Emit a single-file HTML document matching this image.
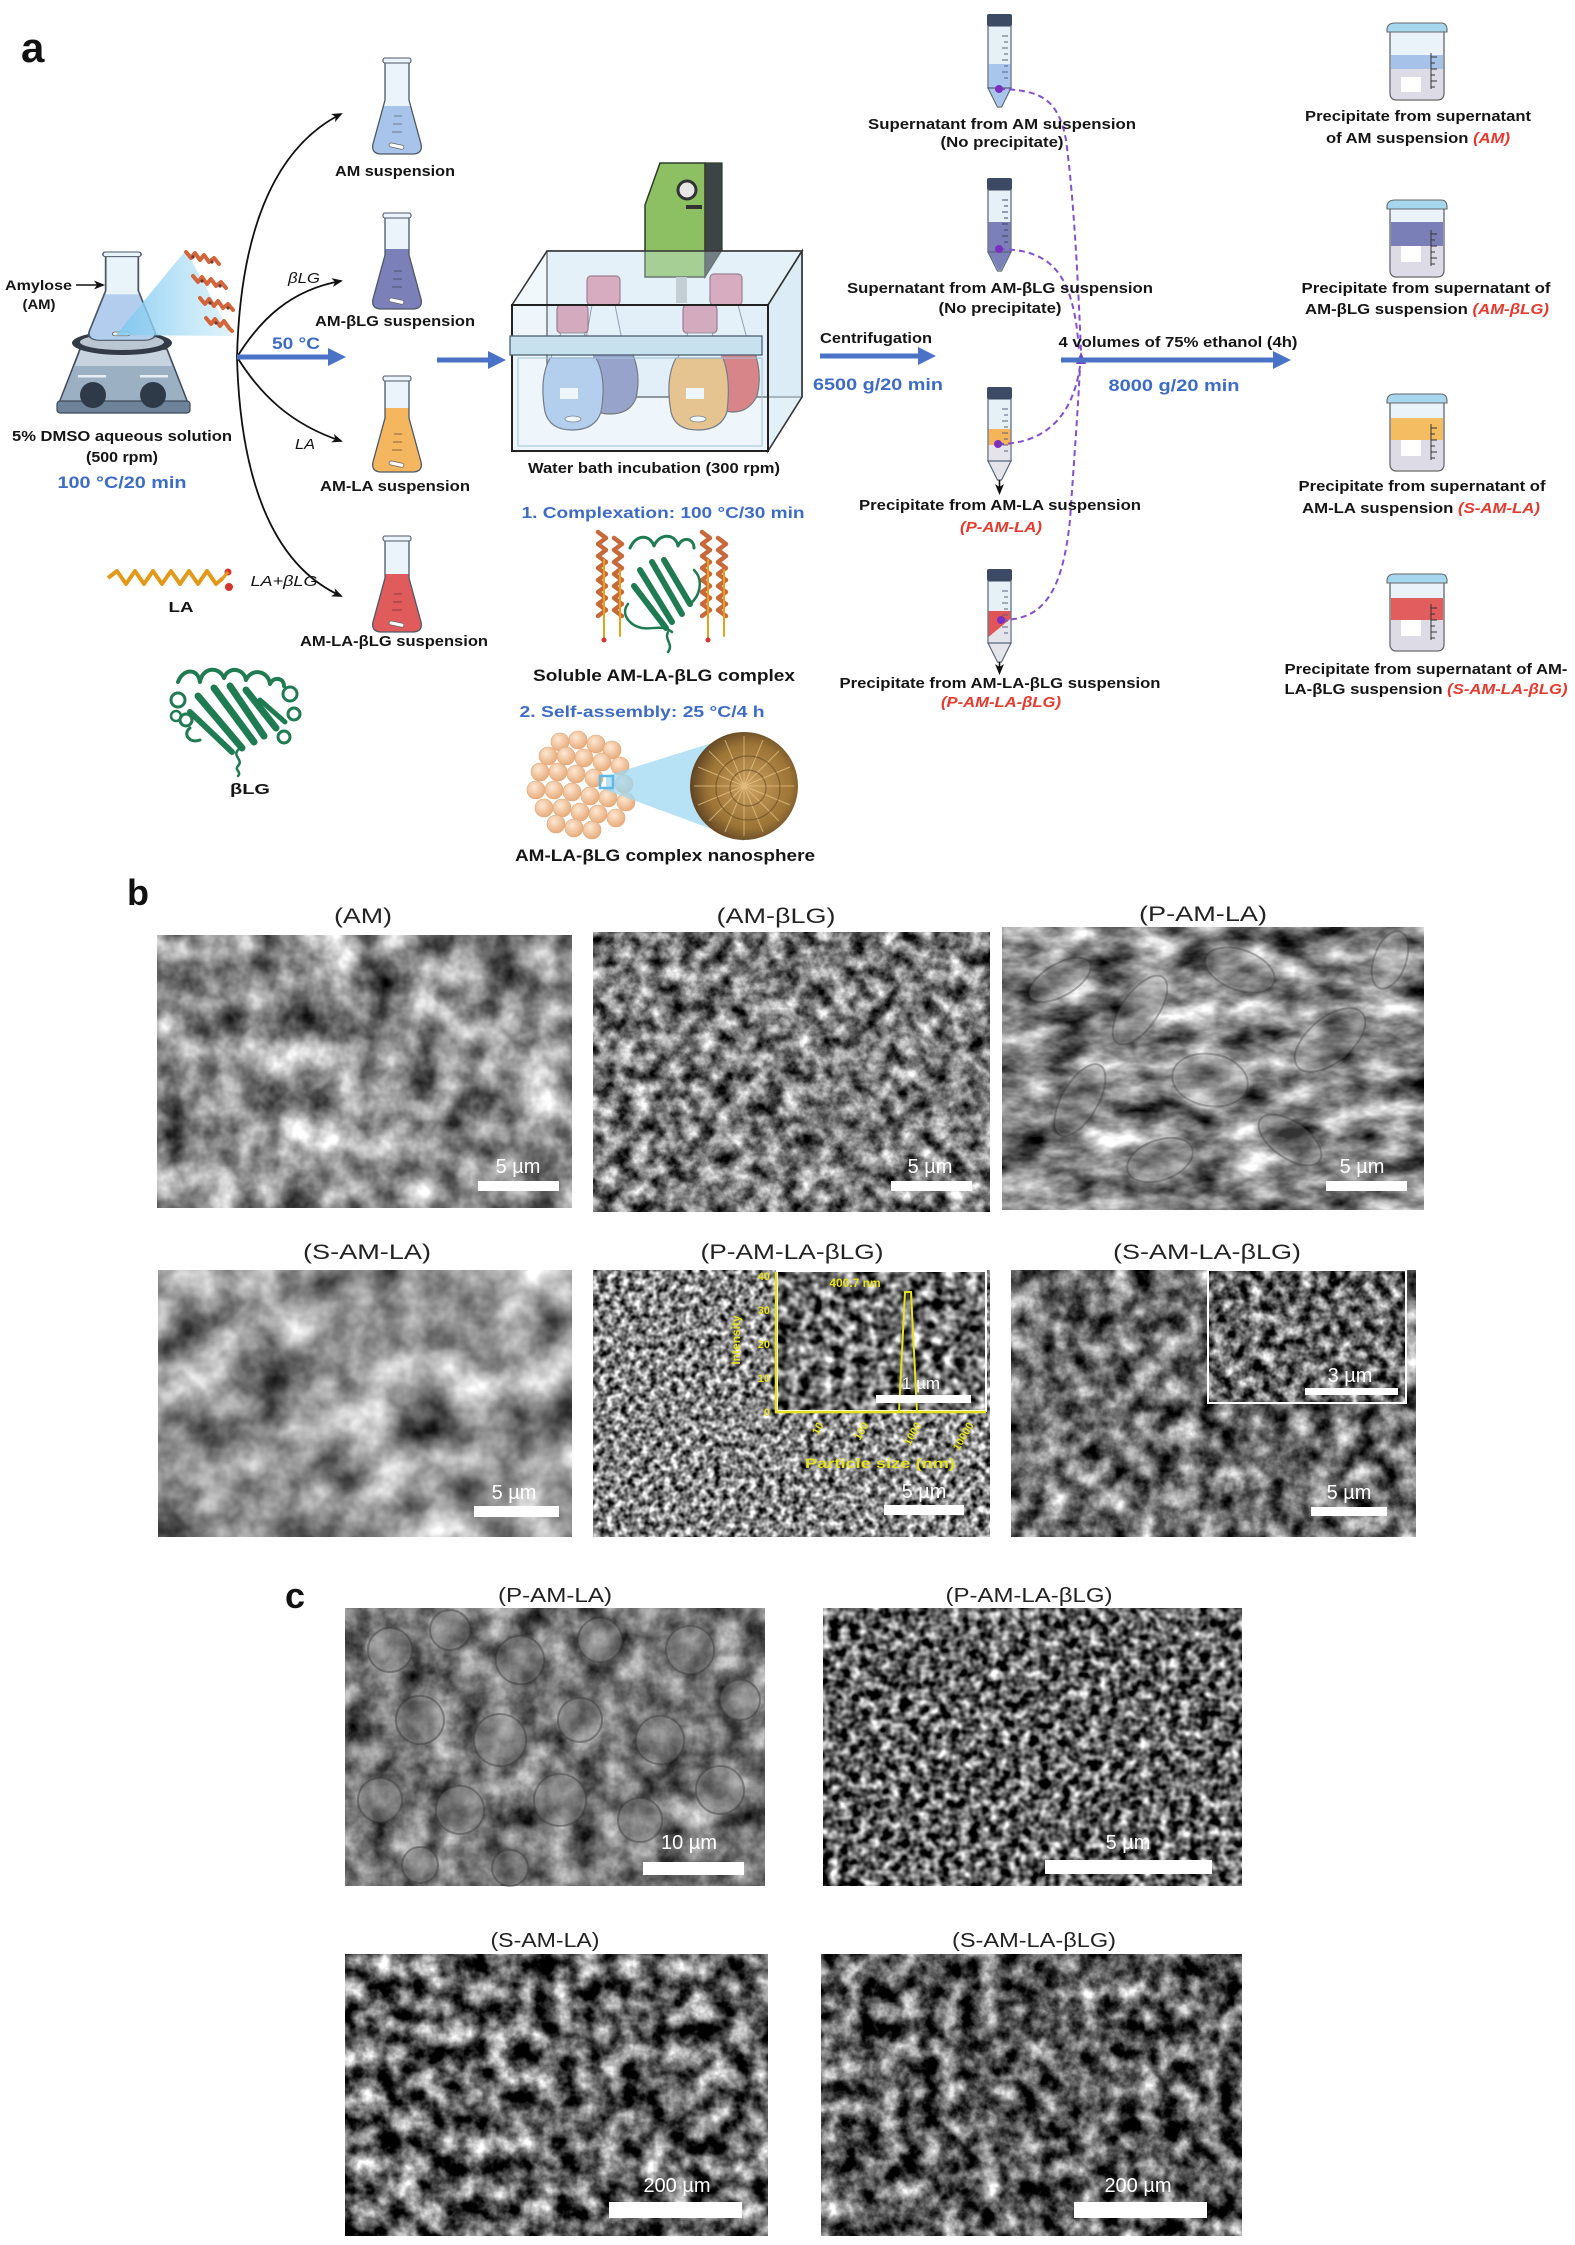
<!DOCTYPE html>
<html><head><meta charset="utf-8">
<style>
html,body{margin:0;padding:0;background:#fff;}
svg{display:block;}
text{font-family:"Liberation Sans",Arial,sans-serif;}
.t{font-size:14.5px;font-weight:bold;fill:#151515;}
.bl{font-size:17px;font-weight:bold;fill:#3d6cc6;}
.bk{font-size:17px;font-weight:bold;fill:#151515;}
.rd{fill:#e8392d;font-style:italic;}
.ti{font-size:21px;fill:#222;}
.sb{font-size:20px;font-weight:normal;fill:#fff;}
.yl{fill:#e6e21e;font-weight:bold;}
</style></head>
<body>
<svg width="1575" height="2245" viewBox="0 0 1575 2245" xmlns="http://www.w3.org/2000/svg">
<defs>
<marker id="ah" markerWidth="12" markerHeight="12" refX="9" refY="6" orient="auto" markerUnits="userSpaceOnUse"><path d="M0,1.5 L11,6 L0,10.5 L3,6 Z" fill="#111"/></marker>
<clipPath id="fc"><path d="M13,3 L37,3 L37,42 L49,86 Q51,95 42,96 L8,96 Q-1,95 1,86 L13,42 Z"/></clipPath>
<radialGradient id="bead" cx="40%" cy="35%" r="65%"><stop offset="0" stop-color="#fde8d2"/><stop offset="1" stop-color="#e8ac7c"/></radialGradient>
<radialGradient id="sph" cx="55%" cy="50%" r="55%"><stop offset="0" stop-color="#c9a060"/><stop offset="0.7" stop-color="#9c7436"/><stop offset="1" stop-color="#5e4424"/></radialGradient>
<linearGradient id="cone" x1="0" y1="0" x2="1" y2="0"><stop offset="0" stop-color="#7cc8ef" stop-opacity="0.9"/><stop offset="1" stop-color="#bfe6f8" stop-opacity="0.5"/></linearGradient>
<filter id="fb1" x="0" y="0" width="1" height="1" color-interpolation-filters="sRGB"><feTurbulence type="fractalNoise" baseFrequency="0.025" numOctaves="4" seed="3"/><feColorMatrix type="matrix" values="1.4 0 0 0 -0.15 1.4 0 0 0 -0.15 1.4 0 0 0 -0.15 0 0 0 0 1"/></filter>
<filter id="fb2" x="0" y="0" width="1" height="1" color-interpolation-filters="sRGB"><feTurbulence type="fractalNoise" baseFrequency="0.06" numOctaves="4" seed="7"/><feColorMatrix type="matrix" values="1.6 0 0 0 -0.32 1.6 0 0 0 -0.32 1.6 0 0 0 -0.32 0 0 0 0 1"/></filter>
<filter id="fb3" x="0" y="0" width="1" height="1" color-interpolation-filters="sRGB"><feTurbulence type="fractalNoise" baseFrequency="0.022 0.04" numOctaves="4" seed="11"/><feColorMatrix type="matrix" values="1.5 0 0 0 -0.23 1.5 0 0 0 -0.23 1.5 0 0 0 -0.23 0 0 0 0 1"/></filter>
<filter id="fb4" x="0" y="0" width="1" height="1" color-interpolation-filters="sRGB"><feTurbulence type="fractalNoise" baseFrequency="0.02" numOctaves="4" seed="5"/><feColorMatrix type="matrix" values="1.2 0 0 0 -0.02 1.2 0 0 0 -0.02 1.2 0 0 0 -0.02 0 0 0 0 1"/></filter>
<filter id="fb5" x="0" y="0" width="1" height="1" color-interpolation-filters="sRGB"><feTurbulence type="fractalNoise" baseFrequency="0.14" numOctaves="2" seed="9"/><feColorMatrix type="matrix" values="1.8 0 0 0 -0.38 1.8 0 0 0 -0.38 1.8 0 0 0 -0.38 0 0 0 0 1"/></filter>
<filter id="fb6" x="0" y="0" width="1" height="1" color-interpolation-filters="sRGB"><feTurbulence type="fractalNoise" baseFrequency="0.045" numOctaves="4" seed="13"/><feColorMatrix type="matrix" values="1.5 0 0 0 -0.32 1.5 0 0 0 -0.32 1.5 0 0 0 -0.32 0 0 0 0 1"/></filter>
<filter id="fb5i" x="0" y="0" width="1" height="1" color-interpolation-filters="sRGB"><feTurbulence type="fractalNoise" baseFrequency="0.09" numOctaves="2" seed="31"/><feColorMatrix type="matrix" values="2.0 0 0 0 -0.58 2.0 0 0 0 -0.58 2.0 0 0 0 -0.58 0 0 0 0 1"/></filter>
<filter id="fb6i" x="0" y="0" width="1" height="1" color-interpolation-filters="sRGB"><feTurbulence type="fractalNoise" baseFrequency="0.08" numOctaves="3" seed="37"/><feColorMatrix type="matrix" values="1.8 0 0 0 -0.5 1.8 0 0 0 -0.5 1.8 0 0 0 -0.5 0 0 0 0 1"/></filter>
<filter id="fc1" x="0" y="0" width="1" height="1" color-interpolation-filters="sRGB"><feTurbulence type="fractalNoise" baseFrequency="0.035" numOctaves="4" seed="17"/><feColorMatrix type="matrix" values="1.1 0 0 0 -0.1 1.1 0 0 0 -0.1 1.1 0 0 0 -0.1 0 0 0 0 1"/></filter>
<filter id="fc2" x="0" y="0" width="1" height="1" color-interpolation-filters="sRGB"><feTurbulence type="fractalNoise" baseFrequency="0.1" numOctaves="2" seed="19"/><feColorMatrix type="matrix" values="2.0 0 0 0 -0.62 2.0 0 0 0 -0.62 2.0 0 0 0 -0.62 0 0 0 0 1"/></filter>
<filter id="fc3" x="0" y="0" width="1" height="1" color-interpolation-filters="sRGB"><feTurbulence type="fractalNoise" baseFrequency="0.045" numOctaves="4" seed="23"/><feColorMatrix type="matrix" values="1.8 0 0 0 -0.52 1.8 0 0 0 -0.52 1.8 0 0 0 -0.52 0 0 0 0 1"/></filter>
<filter id="fc4" x="0" y="0" width="1" height="1" color-interpolation-filters="sRGB"><feTurbulence type="fractalNoise" baseFrequency="0.05" numOctaves="4" seed="29"/><feColorMatrix type="matrix" values="1.8 0 0 0 -0.55 1.8 0 0 0 -0.55 1.8 0 0 0 -0.55 0 0 0 0 1"/></filter>
</defs>

<!-- ================= PANEL A ================= -->
<text x="21" y="62" style="font-size:42px;font-weight:bold;fill:#111">a</text>

<!-- hotplate -->
<path d="M80,349 L167,349 L188,403 L59,403 Z" fill="#9cb0c4" stroke="#3f4a58" stroke-width="1.5"/>
<path d="M81,350 L166,350 L172,366 L75,366 Z" fill="#c7d4e0"/>
<rect x="57" y="401" width="133" height="12" rx="3" fill="#6d8399" stroke="#3f4a58" stroke-width="1.2"/>
<rect x="78" y="375" width="28" height="2.5" fill="#e6eef5"/>
<rect x="140" y="375" width="28" height="2.5" fill="#e6eef5"/>
<circle cx="93" cy="395" r="13" fill="#2f3a48"/><circle cx="153" cy="395" r="13" fill="#2f3a48"/>
<ellipse cx="122" cy="343" rx="50" ry="12" fill="#333b47"/>
<ellipse cx="122" cy="342" rx="42" ry="8" fill="#bac6d2"/>
<g transform="translate(88,252) scale(1.36,0.92)">
<path d="M13,3 L37,3 L37,42 L49,86 Q51,95 42,96 L8,96 Q-1,95 1,86 L13,42 Z" fill="#e8f3fa"/>
<g clip-path="url(#fc)"><rect x="0" y="46" width="52" height="60" fill="#b2cdee"/></g>
<path d="M13,3 L37,3 L37,42 L49,86 Q51,95 42,96 L8,96 Q-1,95 1,86 L13,42 Z" fill="none" stroke="#4c5866" stroke-width="1.3"/>
<rect x="11" y="0" width="28" height="5" rx="2" fill="#e8f3fa" stroke="#4c5866" stroke-width="1.1"/>
<rect x="18" y="87" width="13" height="4" rx="2" fill="#fff" stroke="#666" stroke-width="0.8"/>
</g>
<polygon points="116,335 186,250 232,336" fill="url(#cone)"/>
<g fill="none" stroke="#d4643a" stroke-width="4" stroke-linecap="round" stroke-linejoin="round">
<path d="M186,252 l5,6 l4,-5 l5,7 l4,-5 l5,7 l5,-4 l5,6"/>
<path d="M193,276 l5,6 l4,-5 l5,7 l4,-5 l5,7 l5,-4 l5,6"/>
<path d="M200,298 l5,6 l4,-5 l5,7 l4,-5 l5,7 l5,-4 l5,6"/>
<path d="M206,318 l5,6 l4,-5 l5,7 l4,-5 l5,7 l3,3"/>
</g>
<g fill="#6a3c34"><circle cx="193" cy="257" r="1.6"/><circle cx="212" cy="262" r="1.6"/><circle cx="202" cy="281" r="1.6"/><circle cx="220" cy="286" r="1.6"/><circle cx="210" cy="303" r="1.6"/><circle cx="228" cy="308" r="1.6"/><circle cx="216" cy="323" r="1.6"/></g>
<text class="t" x="38.5" y="290" text-anchor="middle" textLength="67" lengthAdjust="spacingAndGlyphs" style="font-size:14px">Amylose</text>
<text class="t" x="39" y="309" text-anchor="middle" textLength="33" lengthAdjust="spacingAndGlyphs" style="font-size:14px">(AM)</text>
<line x1="76" y1="285" x2="103" y2="285" stroke="#111" stroke-width="1.6" marker-end="url(#ah)"/>
<text class="t" x="122" y="441" text-anchor="middle" textLength="220" lengthAdjust="spacingAndGlyphs">5% DMSO aqueous solution</text>
<text class="t" x="122" y="462" text-anchor="middle" textLength="72" lengthAdjust="spacingAndGlyphs">(500 rpm)</text>
<text class="bl" x="122" y="488" text-anchor="middle" textLength="129" lengthAdjust="spacingAndGlyphs">100 °C/20 min</text>

<g fill="none" stroke="#111" stroke-width="1.8">
<path d="M237,357 C240,240 270,150 341,114" marker-end="url(#ah)"/>
<path d="M237,357 C240,474 270,564 341,596" marker-end="url(#ah)"/>
<path d="M237,357 C260,320 290,290 341,281" marker-end="url(#ah)"/>
<path d="M237,357 C260,394 290,424 341,441" marker-end="url(#ah)"/>
</g>
<line x1="237" y1="357" x2="330" y2="357" stroke="#4a72c6" stroke-width="5"/>
<polygon points="328,348 346,357 328,366" fill="#4a72c6"/>
<text class="bl" x="296" y="349" text-anchor="middle" textLength="48" lengthAdjust="spacingAndGlyphs">50 °C</text>
<text class="t" x="304" y="283" text-anchor="middle" textLength="32" lengthAdjust="spacingAndGlyphs" style="font-style:italic;font-weight:normal">βLG</text>
<text class="t" x="305" y="449" text-anchor="middle" textLength="20" lengthAdjust="spacingAndGlyphs" style="font-style:italic;font-weight:normal">LA</text>
<text class="t" x="284" y="586" text-anchor="middle" textLength="67" lengthAdjust="spacingAndGlyphs" style="font-style:italic;font-weight:normal">LA+βLG</text>

<polyline points="108,578 117,571 126,584 135,571 144,584 153,571 162,584 171,571 180,584 189,571 198,584 207,571 216,584 223,578" fill="none" stroke="#e39a1a" stroke-width="4" stroke-linejoin="round"/>
<circle cx="228" cy="572" r="3.5" fill="#d9342b"/><circle cx="229" cy="587" r="4" fill="#d9342b"/>
<line x1="223" y1="578" x2="228" y2="572" stroke="#e39a1a" stroke-width="3"/>
<text class="t" x="181" y="612" text-anchor="middle" textLength="25" lengthAdjust="spacingAndGlyphs">LA</text>

<g fill="none" stroke="#1f7b51" stroke-linecap="round" stroke-linejoin="round">
<path d="M178,682 c5,-14 20,-14 22,0 c2,-14 18,-17 24,-4 c4,-12 20,-10 22,2 c5,-12 22,-10 24,4 c4,-8 14,-6 14,2" stroke-width="4"/>
<path d="M198,696 L242,748" stroke-width="7"/>
<path d="M214,688 L254,742" stroke-width="7"/>
<path d="M230,686 L264,736" stroke-width="7"/>
<path d="M246,690 L276,728" stroke-width="7"/>
<path d="M190,712 L232,752" stroke-width="6"/>
<path d="M260,700 L285,722" stroke-width="5"/>
<circle cx="178" cy="700" r="7" stroke-width="3"/><circle cx="186" cy="720" r="6" stroke-width="3"/><circle cx="176" cy="716" r="5" stroke-width="2.5"/>
<circle cx="290" cy="694" r="7" stroke-width="3"/><circle cx="294" cy="714" r="6" stroke-width="3"/><circle cx="284" cy="737" r="6" stroke-width="3"/>
<path d="M238,750 c-6,6 6,10 0,16 c-4,4 4,6 0,10" stroke-width="2.5"/>
<path d="M200,740 c-10,4 -18,-6 -10,-12" stroke-width="3"/>
</g>
<text class="t" x="250" y="794" text-anchor="middle" textLength="40" lengthAdjust="spacingAndGlyphs" style="font-size:15px">βLG</text>

<g transform="translate(372,58)">
<path d="M13,3 L37,3 L37,42 L49,86 Q51,95 42,96 L8,96 Q-1,95 1,86 L13,42 Z" fill="#eaf4fa"/>
<g clip-path="url(#fc)"><rect x="0" y="48" width="52" height="60" fill="#a9c4ea"/></g>
<path d="M13,3 L37,3 L37,42 L49,86 Q51,95 42,96 L8,96 Q-1,95 1,86 L13,42 Z" fill="none" stroke="#4c5866" stroke-width="1.3"/>
<rect x="11" y="0" width="28" height="5" rx="2" fill="#eaf4fa" stroke="#4c5866" stroke-width="1.1"/>
<path d="M22,58h8M21,66h9M20,74h10" stroke="#6c7a88" stroke-width="1"/>
<rect x="17" y="86" width="15" height="4" rx="2" fill="#fff" stroke="#666" stroke-width="0.8" transform="rotate(12 24 88)"/>
</g>
<g transform="translate(372,213)">
<path d="M13,3 L37,3 L37,42 L49,86 Q51,95 42,96 L8,96 Q-1,95 1,86 L13,42 Z" fill="#eaf4fa"/>
<g clip-path="url(#fc)"><rect x="0" y="36" width="52" height="70" fill="#7b80b8"/></g>
<path d="M13,3 L37,3 L37,42 L49,86 Q51,95 42,96 L8,96 Q-1,95 1,86 L13,42 Z" fill="none" stroke="#4c5866" stroke-width="1.3"/>
<rect x="11" y="0" width="28" height="5" rx="2" fill="#eaf4fa" stroke="#4c5866" stroke-width="1.1"/>
<path d="M22,58h8M21,66h9M20,74h10" stroke="#4c5370" stroke-width="1"/>
<rect x="17" y="86" width="15" height="4" rx="2" fill="#fff" stroke="#666" stroke-width="0.8" transform="rotate(12 24 88)"/>
</g>
<g transform="translate(372,376)">
<path d="M13,3 L37,3 L37,42 L49,86 Q51,95 42,96 L8,96 Q-1,95 1,86 L13,42 Z" fill="#eaf4fa"/>
<g clip-path="url(#fc)"><rect x="0" y="32" width="52" height="74" fill="#f4b760"/></g>
<path d="M13,3 L37,3 L37,42 L49,86 Q51,95 42,96 L8,96 Q-1,95 1,86 L13,42 Z" fill="none" stroke="#4c5866" stroke-width="1.3"/>
<rect x="11" y="0" width="28" height="5" rx="2" fill="#eaf4fa" stroke="#4c5866" stroke-width="1.1"/>
<path d="M22,58h8M21,66h9M20,74h10" stroke="#8a6a3a" stroke-width="1"/>
<rect x="17" y="86" width="15" height="4" rx="2" fill="#fff" stroke="#666" stroke-width="0.8" transform="rotate(12 24 88)"/>
</g>
<g transform="translate(372,536)">
<path d="M13,3 L37,3 L37,42 L49,86 Q51,95 42,96 L8,96 Q-1,95 1,86 L13,42 Z" fill="#eaf4fa"/>
<g clip-path="url(#fc)"><rect x="0" y="38" width="52" height="70" fill="#e05c5c"/></g>
<path d="M13,3 L37,3 L37,42 L49,86 Q51,95 42,96 L8,96 Q-1,95 1,86 L13,42 Z" fill="none" stroke="#4c5866" stroke-width="1.3"/>
<rect x="11" y="0" width="28" height="5" rx="2" fill="#eaf4fa" stroke="#4c5866" stroke-width="1.1"/>
<path d="M22,58h8M21,66h9M20,74h10" stroke="#8a3a3a" stroke-width="1"/>
<rect x="17" y="86" width="15" height="4" rx="2" fill="#fff" stroke="#666" stroke-width="0.8" transform="rotate(12 24 88)"/>
</g>
<text class="t" x="395" y="176" text-anchor="middle" textLength="120" lengthAdjust="spacingAndGlyphs">AM suspension</text>
<text class="t" x="395" y="326" text-anchor="middle" textLength="160" lengthAdjust="spacingAndGlyphs">AM-βLG suspension</text>
<text class="t" x="395" y="491" text-anchor="middle" textLength="150" lengthAdjust="spacingAndGlyphs">AM-LA suspension</text>
<text class="t" x="394" y="646" text-anchor="middle" textLength="188" lengthAdjust="spacingAndGlyphs">AM-LA-βLG suspension</text>

<line x1="437" y1="360" x2="490" y2="360" stroke="#4a72c6" stroke-width="5"/>
<polygon points="488,351 506,360 488,369" fill="#4a72c6"/>

<!-- water bath -->
<rect x="547" y="251" width="255" height="146" fill="#edf5fa" stroke="#333" stroke-width="1.4"/>
<polygon points="660,163 705,163 705,277 645,277 645,205" fill="#8cc063" stroke="#2f3a2a" stroke-width="1.5"/>
<polygon points="705,163 722,163 722,250 705,277" fill="#3d4445" stroke="#2f3a2a" stroke-width="1.2"/>
<circle cx="687" cy="190" r="9" fill="#e6e6e6" stroke="#333" stroke-width="3"/>
<rect x="686" y="205" width="16" height="4" fill="#333"/>
<rect x="676" y="277" width="11" height="26" fill="#b9bfc4"/>
<rect x="587" y="276" width="33" height="29" rx="4" fill="#d88aa4" stroke="#7a4a5a" stroke-width="1.2"/>
<polygon points="592,305 615,305 624,350 584,350" fill="#f2f8fc" stroke="#778" stroke-width="1"/>
<path d="M584,348 L630,348 Q642,372 636,398 Q630,414 610,414 Q590,414 586,398 Z" fill="#7c80b5" stroke="#444" stroke-width="1.2"/>
<rect x="710" y="274" width="32" height="31" rx="4" fill="#d88aa4" stroke="#7a4a5a" stroke-width="1.2"/>
<polygon points="715,305 738,305 750,350 708,350" fill="#f2f8fc" stroke="#778" stroke-width="1"/>
<path d="M712,348 L753,348 Q763,372 757,396 Q749,412 733,412 Q719,412 715,398 Z" fill="#dd5252" stroke="#444" stroke-width="1.2"/>
<rect x="557" y="305" width="31" height="28" rx="4" fill="#d88aa4" stroke="#7a4a5a" stroke-width="1.2"/>
<polygon points="561,333 584,333 595,360 550,360" fill="#f2f8fc" stroke="#778" stroke-width="1"/>
<path d="M550,358 L596,358 Q607,378 601,412 Q595,430 572,430 Q550,430 545,412 Q539,378 550,358 Z" fill="#a7c3ea" stroke="#445" stroke-width="1.2"/>
<rect x="560" y="388" width="18" height="11" fill="#fff"/>
<ellipse cx="573" cy="419" rx="8" ry="3" fill="#fff" stroke="#555" stroke-width="0.8"/>
<rect x="683" y="305" width="34" height="28" rx="4" fill="#d88aa4" stroke="#7a4a5a" stroke-width="1.2"/>
<polygon points="688,333 712,333 723,360 677,360" fill="#f2f8fc" stroke="#778" stroke-width="1"/>
<path d="M676,358 L723,358 Q731,378 727,412 Q721,430 698,430 Q675,430 671,412 Q665,378 676,358 Z" fill="#f3b35d" stroke="#445" stroke-width="1.2"/>
<rect x="686" y="388" width="18" height="11" fill="#fff"/>
<ellipse cx="698" cy="419" rx="8" ry="3" fill="#fff" stroke="#555" stroke-width="0.8"/>
<polygon points="512,305 547,251 802,251 768,305" fill="#d8ecf6" fill-opacity="0.35" stroke="#333" stroke-width="1.6"/>
<polygon points="768,305 802,251 802,397 768,451" fill="#cfe6f3" fill-opacity="0.6" stroke="#333" stroke-width="1.6"/>
<rect x="512" y="305" width="256" height="146" fill="#cfe6f3" fill-opacity="0.35" stroke="#222" stroke-width="2"/>
<rect x="518" y="358" width="244" height="88" fill="none" stroke="#9cc3da" stroke-width="1"/>
<rect x="510" y="336" width="252" height="19" fill="#c8e1ef" stroke="#4d6070" stroke-width="1.3"/>
<text class="t" x="654" y="473" text-anchor="middle" textLength="252" lengthAdjust="spacingAndGlyphs">Water bath incubation (300 rpm)</text>
<text class="bl" x="663" y="518" text-anchor="middle" textLength="283" lengthAdjust="spacingAndGlyphs" style="font-size:16px">1. Complexation: 100 °C/30 min</text>

<g fill="none" stroke-linecap="round" stroke-linejoin="round">
<g stroke="#c8693c" stroke-width="4.5">
<path d="M598,532 l8,6 l-8,6 l8,6 l-8,6 l8,6 l-8,6 l8,6 l-8,6 l8,6 l-8,6 l8,6 l-8,6 l8,6 l-8,6"/>
<path d="M614,538 l8,6 l-8,6 l8,6 l-8,6 l8,6 l-8,6 l8,6 l-8,6 l8,6 l-8,6 l8,6 l-8,6 l8,6"/>
<path d="M702,532 l8,6 l-8,6 l8,6 l-8,6 l8,6 l-8,6 l8,6 l-8,6 l8,6 l-8,6 l8,6 l-8,6 l8,6 l-8,6"/>
<path d="M718,538 l8,6 l-8,6 l8,6 l-8,6 l8,6 l-8,6 l8,6 l-8,6 l8,6 l-8,6 l8,6 l-8,6 l8,6"/>
</g>
<g stroke="#e3a21a" stroke-width="2"><path d="M604,560 v78 M620,570 v66 M708,560 v78 M724,570 v66"/></g>
<g stroke="#1f7b51">
<path d="M630,548 c6,-14 20,-14 24,-2 c6,-14 22,-12 24,0 c4,-10 16,-8 16,2" stroke-width="3"/>
<path d="M640,570 L672,622" stroke-width="6"/><path d="M652,562 L682,614" stroke-width="6"/>
<path d="M664,560 L690,604" stroke-width="6"/><path d="M634,586 L666,628" stroke-width="6"/>
<path d="M628,604 c-8,10 2,22 14,24 c10,2 20,-4 30,4" stroke-width="2.5"/>
<path d="M668,632 c-4,8 6,12 0,20" stroke-width="2.5"/>
<path d="M694,570 c10,10 6,26 -4,34" stroke-width="2.5"/>
</g>
</g>
<g fill="#d9342b"><circle cx="604" cy="640" r="2.5"/><circle cx="708" cy="640" r="2.5"/></g>
<text class="bk" x="664" y="681" text-anchor="middle" textLength="262" lengthAdjust="spacingAndGlyphs">Soluble AM-LA-βLG complex</text>
<text class="bl" x="642" y="717" text-anchor="middle" textLength="245" lengthAdjust="spacingAndGlyphs" style="font-size:16px">2. Self-assembly: 25 °C/4 h</text>

<g fill="url(#bead)" stroke="#e0a678" stroke-width="0.6">
<circle cx="560" cy="742" r="9"/><circle cx="578" cy="740" r="9"/><circle cx="596" cy="744" r="9"/><circle cx="612" cy="750" r="9"/>
<circle cx="548" cy="756" r="9"/><circle cx="566" cy="756" r="9"/><circle cx="584" cy="758" r="9"/><circle cx="602" cy="762" r="9"/><circle cx="620" cy="766" r="9"/>
<circle cx="540" cy="772" r="9"/><circle cx="558" cy="772" r="9"/><circle cx="576" cy="774" r="9"/><circle cx="594" cy="778" r="9"/><circle cx="624" cy="784" r="9"/>
<circle cx="536" cy="790" r="9"/><circle cx="554" cy="790" r="9"/><circle cx="572" cy="792" r="9"/><circle cx="590" cy="796" r="9"/><circle cx="608" cy="798" r="9"/><circle cx="626" cy="802" r="9"/>
<circle cx="544" cy="808" r="9"/><circle cx="562" cy="808" r="9"/><circle cx="580" cy="812" r="9"/><circle cx="598" cy="814" r="9"/><circle cx="616" cy="818" r="9"/>
<circle cx="556" cy="824" r="9"/><circle cx="574" cy="828" r="9"/><circle cx="592" cy="830" r="9"/>
</g>
<polygon points="606,776 744,733 744,841 606,790" fill="#9fd8f3" fill-opacity="0.75"/>
<rect x="600" y="776" width="13" height="12" fill="none" stroke="#5fb8e6" stroke-width="2.5"/>
<ellipse cx="744" cy="786" rx="54" ry="54" fill="url(#sph)"/>
<g stroke="#e9c98a" stroke-width="1" opacity="0.7">
<path d="M744,786 L744,736 M744,786 L779,751 M744,786 L794,786 M744,786 L779,821 M744,786 L744,836 M744,786 L709,821 M744,786 L694,786 M744,786 L709,751 M744,786 L763,740 M744,786 L790,767 M744,786 L790,805 M744,786 L763,832 M744,786 L725,832 M744,786 L698,805 M744,786 L698,767 M744,786 L725,740"/>
</g>
<g fill="none" stroke="#5e4424" stroke-width="1.2" opacity="0.6"><circle cx="748" cy="788" r="18"/><circle cx="748" cy="788" r="32"/></g>
<text class="bk" x="665" y="861" text-anchor="middle" textLength="300" lengthAdjust="spacingAndGlyphs">AM-LA-βLG complex nanosphere</text>

<line x1="820" y1="356" x2="920" y2="356" stroke="#4a72c6" stroke-width="5"/>
<polygon points="918,347 936,356 918,365" fill="#4a72c6"/>
<text class="t" x="876" y="343" text-anchor="middle" textLength="112" lengthAdjust="spacingAndGlyphs">Centrifugation</text>
<text class="bl" x="878" y="390" text-anchor="middle" textLength="130" lengthAdjust="spacingAndGlyphs">6500 g/20 min</text>

<g transform="translate(987,14)">
<rect x="1" y="12" width="23" height="62" fill="#e6f0f7" stroke="#56657a" stroke-width="1.2"/>
<path d="M1.6,50 L23.4,50 L23.4,74 L14,92 L11,92 L1.6,74 Z" fill="#a9c5ec"/>
<path d="M1,74 L24,74 L14.5,93 L10.5,93 Z" fill="none" stroke="#56657a" stroke-width="1.2"/>
<rect x="0" y="0" width="25" height="12" rx="2" fill="#3c4a66"/>
<path d="M15,22h6M17,28h4M15,34h6M17,40h4M15,46h6M17,52h4M15,58h6M17,64h4" stroke="#56657a" stroke-width="1"/>
</g>
<g transform="translate(987,178)">
<rect x="1" y="12" width="23" height="62" fill="#e6f0f7" stroke="#56657a" stroke-width="1.2"/>
<path d="M1.6,44 L23.4,44 L23.4,74 L14,92 L11,92 L1.6,74 Z" fill="#7b80b8"/>
<path d="M1,74 L24,74 L14.5,93 L10.5,93 Z" fill="none" stroke="#56657a" stroke-width="1.2"/>
<rect x="0" y="0" width="25" height="12" rx="2" fill="#3c4a66"/>
<path d="M15,22h6M17,28h4M15,34h6M17,40h4M15,46h6M17,52h4M15,58h6M17,64h4" stroke="#3c4466" stroke-width="1"/>
</g>
<g transform="translate(987,387)">
<rect x="1" y="12" width="23" height="62" fill="#e6f0f7" stroke="#56657a" stroke-width="1.2"/>
<rect x="1.6" y="42" width="21.8" height="16" fill="#f3b45a"/>
<path d="M1.6,58 L23.4,58 L23.4,74 L14,92 L11,92 L1.6,74 Z" fill="#e4e4ea"/>
<path d="M1,74 L24,74 L14.5,93 L10.5,93 Z" fill="none" stroke="#56657a" stroke-width="1.2"/>
<rect x="0" y="0" width="25" height="12" rx="2" fill="#3c4a66"/>
<path d="M15,22h6M17,28h4M15,34h6M17,40h4M15,46h6M17,52h4M15,58h6M17,64h4" stroke="#56657a" stroke-width="1"/>
<line x1="12.5" y1="93" x2="12.5" y2="106" stroke="#111" stroke-width="1.6" marker-end="url(#ah)"/>
</g>
<g transform="translate(987,569)">
<rect x="1" y="12" width="23" height="62" fill="#e6f0f7" stroke="#56657a" stroke-width="1.2"/>
<polygon points="1.6,42 23.4,42 23.4,50 1.6,68" fill="#e05555"/>
<path d="M1.6,68 L23.4,50 L23.4,74 L14,92 L11,92 L1.6,74 Z" fill="#e4e4ea"/>
<path d="M1,74 L24,74 L14.5,93 L10.5,93 Z" fill="none" stroke="#56657a" stroke-width="1.2"/>
<rect x="0" y="0" width="25" height="12" rx="2" fill="#3c4a66"/>
<path d="M15,22h6M17,28h4M15,34h6M17,40h4M15,46h6M17,52h4M15,58h6M17,64h4" stroke="#56657a" stroke-width="1"/>
<line x1="12.5" y1="93" x2="12.5" y2="104" stroke="#111" stroke-width="1.6" marker-end="url(#ah)"/>
</g>
<g fill="none" stroke="#8450d0" stroke-width="2" stroke-dasharray="6,4">
<path d="M999,89 C1040,90 1058,98 1066,140 C1074,200 1078,280 1081,352"/>
<path d="M999,249 C1048,250 1074,268 1079,352"/>
<path d="M998,444 C1040,444 1072,422 1080,366"/>
<path d="M1001,620 C1040,620 1062,598 1070,520 C1074,460 1078,410 1080,366"/>
</g>
<polygon points="1081,352 1076,364 1086,364" fill="#7a3fc8"/>
<g fill="#7b2fbf"><circle cx="999" cy="89" r="4"/><circle cx="999" cy="249" r="4"/><circle cx="998" cy="444" r="4"/><circle cx="1001" cy="620" r="4"/></g>

<line x1="1061" y1="360" x2="1275" y2="360" stroke="#4a72c6" stroke-width="5"/>
<polygon points="1273,351 1291,360 1273,369" fill="#4a72c6"/>
<text class="t" x="1178" y="347" text-anchor="middle" textLength="239" lengthAdjust="spacingAndGlyphs">4 volumes of 75% ethanol (4h)</text>
<text class="bl" x="1174" y="391" text-anchor="middle" textLength="131" lengthAdjust="spacingAndGlyphs">8000 g/20 min</text>

<text class="t" x="1002" y="129" text-anchor="middle" textLength="268" lengthAdjust="spacingAndGlyphs">Supernatant from AM suspension</text>
<text class="t" x="1002" y="147" text-anchor="middle" textLength="123" lengthAdjust="spacingAndGlyphs">(No precipitate)</text>
<text class="t" x="1000" y="293" text-anchor="middle" textLength="306" lengthAdjust="spacingAndGlyphs">Supernatant from AM-βLG suspension</text>
<text class="t" x="1000" y="313" text-anchor="middle" textLength="123" lengthAdjust="spacingAndGlyphs">(No precipitate)</text>
<text class="t" x="1000" y="510" text-anchor="middle" textLength="282" lengthAdjust="spacingAndGlyphs">Precipitate from AM-LA suspension</text>
<text class="t rd" x="1001" y="532" text-anchor="middle" textLength="82" lengthAdjust="spacingAndGlyphs">(P-AM-LA)</text>
<text class="t" x="1000" y="688" text-anchor="middle" textLength="321" lengthAdjust="spacingAndGlyphs">Precipitate from AM-LA-βLG suspension</text>
<text class="t rd" x="1001" y="707" text-anchor="middle" textLength="120" lengthAdjust="spacingAndGlyphs">(P-AM-LA-βLG)</text>

<g transform="translate(1387,23)">
<path d="M3,6 L57,6 L57,70 Q57,77 50,77 L10,77 Q3,77 3,70 Z" fill="#e9f3f9" stroke="#666" stroke-width="1.3"/>
<rect x="4" y="32" width="52" height="14" fill="#a7c2e8"/>
<path d="M4,46 L56,46 L56,70 Q56,76 50,76 L10,76 Q4,76 4,70 Z" fill="#dddbe6"/>
<rect x="14" y="54" width="20" height="15" fill="#fff"/>
<path d="M44,30 v36 M44,34h6 M44,40h4 M44,46h6 M44,52h4 M44,58h6 M44,64h4" stroke="#333" stroke-width="1"/>
<path d="M0,7 Q0,0 8,0 L54,0 Q60,0 60,7 L60,9 L0,9 Z" fill="#a7d7ee" stroke="#666" stroke-width="1.1"/>
</g>
<g transform="translate(1387,200)">
<path d="M3,6 L57,6 L57,70 Q57,77 50,77 L10,77 Q3,77 3,70 Z" fill="#e9f3f9" stroke="#666" stroke-width="1.3"/>
<rect x="4" y="22" width="52" height="24" fill="#7b7fb8"/>
<path d="M4,46 L56,46 L56,70 Q56,76 50,76 L10,76 Q4,76 4,70 Z" fill="#dddbe6"/>
<rect x="14" y="46" width="20" height="16" fill="#fff"/>
<path d="M44,30 v36 M44,34h6 M44,40h4 M44,46h6 M44,52h4 M44,58h6 M44,64h4" stroke="#333" stroke-width="1"/>
<path d="M0,7 Q0,0 8,0 L54,0 Q60,0 60,7 L60,9 L0,9 Z" fill="#a7d7ee" stroke="#666" stroke-width="1.1"/>
</g>
<g transform="translate(1387,394)">
<path d="M3,6 L57,6 L57,70 Q57,77 50,77 L10,77 Q3,77 3,70 Z" fill="#e9f3f9" stroke="#666" stroke-width="1.3"/>
<rect x="4" y="24" width="52" height="22" fill="#f5bd62"/>
<path d="M4,46 L56,46 L56,70 Q56,76 50,76 L10,76 Q4,76 4,70 Z" fill="#dddbe6"/>
<rect x="14" y="46" width="20" height="16" fill="#fff"/>
<path d="M44,30 v36 M44,34h6 M44,40h4 M44,46h6 M44,52h4 M44,58h6 M44,64h4" stroke="#333" stroke-width="1"/>
<path d="M0,7 Q0,0 8,0 L54,0 Q60,0 60,7 L60,9 L0,9 Z" fill="#a7d7ee" stroke="#666" stroke-width="1.1"/>
</g>
<g transform="translate(1387,574)">
<path d="M3,6 L57,6 L57,70 Q57,77 50,77 L10,77 Q3,77 3,70 Z" fill="#e9f3f9" stroke="#666" stroke-width="1.3"/>
<rect x="4" y="24" width="52" height="22" fill="#e25d5d"/>
<path d="M4,46 L56,46 L56,70 Q56,76 50,76 L10,76 Q4,76 4,70 Z" fill="#dddbe6"/>
<rect x="14" y="46" width="20" height="16" fill="#fff"/>
<path d="M44,30 v36 M44,34h6 M44,40h4 M44,46h6 M44,52h4 M44,58h6 M44,64h4" stroke="#333" stroke-width="1"/>
<path d="M0,7 Q0,0 8,0 L54,0 Q60,0 60,7 L60,9 L0,9 Z" fill="#a7d7ee" stroke="#666" stroke-width="1.1"/>
</g>
<text class="t" x="1418" y="121" text-anchor="middle" textLength="226" lengthAdjust="spacingAndGlyphs">Precipitate from supernatant</text>
<text class="t" x="1418" y="143" text-anchor="middle" textLength="184" lengthAdjust="spacingAndGlyphs">of AM suspension <tspan class="rd">(AM)</tspan></text>
<text class="t" x="1426" y="293" text-anchor="middle" textLength="249" lengthAdjust="spacingAndGlyphs">Precipitate from supernatant of</text>
<text class="t" x="1427" y="314" text-anchor="middle" textLength="244" lengthAdjust="spacingAndGlyphs">AM-βLG suspension <tspan class="rd">(AM-βLG)</tspan></text>
<text class="t" x="1422" y="491" text-anchor="middle" textLength="247" lengthAdjust="spacingAndGlyphs">Precipitate from supernatant of</text>
<text class="t" x="1421" y="513" text-anchor="middle" textLength="238" lengthAdjust="spacingAndGlyphs">AM-LA suspension <tspan class="rd">(S-AM-LA)</tspan></text>
<text class="t" x="1426" y="674" text-anchor="middle" textLength="283" lengthAdjust="spacingAndGlyphs">Precipitate from supernatant of AM-</text>
<text class="t" x="1426" y="694" text-anchor="middle" textLength="283" lengthAdjust="spacingAndGlyphs">LA-βLG suspension <tspan class="rd">(S-AM-LA-βLG)</tspan></text>

<!-- ================= PANEL B ================= -->
<text x="127" y="905" style="font-size:36px;font-weight:bold;fill:#111">b</text>
<text class="ti" x="363" y="923" text-anchor="middle" textLength="58" lengthAdjust="spacingAndGlyphs">(AM)</text>
<text class="ti" x="776" y="923" text-anchor="middle" textLength="119" lengthAdjust="spacingAndGlyphs">(AM-βLG)</text>
<text class="ti" x="1203" y="921" text-anchor="middle" textLength="128" lengthAdjust="spacingAndGlyphs">(P-AM-LA)</text>
<text class="ti" x="367" y="1259" text-anchor="middle" textLength="128" lengthAdjust="spacingAndGlyphs">(S-AM-LA)</text>
<text class="ti" x="792" y="1259" text-anchor="middle" textLength="183" lengthAdjust="spacingAndGlyphs">(P-AM-LA-βLG)</text>
<text class="ti" x="1207" y="1259" text-anchor="middle" textLength="188" lengthAdjust="spacingAndGlyphs">(S-AM-LA-βLG)</text>

<rect x="157" y="935" width="415" height="273" fill="#888" filter="url(#fb1)"/>
<rect x="593" y="932" width="397" height="280" fill="#888" filter="url(#fb2)"/>
<rect x="1002" y="927" width="422" height="283" fill="#888" filter="url(#fb3)"/>
<g fill="#a8a8a8" fill-opacity="0.3" stroke="#3a3a3a" stroke-opacity="0.35" stroke-width="2">
<ellipse cx="1060" cy="980" rx="34" ry="16" transform="rotate(-30 1060 980)"/>
<ellipse cx="1140" cy="1010" rx="40" ry="18" transform="rotate(-55 1140 1010)"/>
<ellipse cx="1240" cy="970" rx="36" ry="20" transform="rotate(20 1240 970)"/>
<ellipse cx="1330" cy="1040" rx="42" ry="22" transform="rotate(-40 1330 1040)"/>
<ellipse cx="1210" cy="1080" rx="38" ry="26" transform="rotate(10 1210 1080)"/>
<ellipse cx="1080" cy="1100" rx="40" ry="18" transform="rotate(-60 1080 1100)"/>
<ellipse cx="1290" cy="1140" rx="36" ry="18" transform="rotate(35 1290 1140)"/>
<ellipse cx="1390" cy="960" rx="30" ry="16" transform="rotate(-70 1390 960)"/>
<ellipse cx="1160" cy="1160" rx="34" ry="20" transform="rotate(-20 1160 1160)"/>
</g>
<rect x="158" y="1270" width="414" height="267" fill="#888" filter="url(#fb4)"/>
<rect x="593" y="1270" width="397" height="267" fill="#888" filter="url(#fb5)"/>
<rect x="1011" y="1270" width="405" height="267" fill="#888" filter="url(#fb6)"/>

<rect x="778" y="1272" width="207" height="138" fill="#666" filter="url(#fb5i)"/>
<rect x="777" y="1271" width="209" height="140" fill="none" stroke="#fff" stroke-width="2"/>
<path d="M776,1272 V1412 H986" stroke="#e6e21e" stroke-width="2.5" fill="none"/>
<path d="M899,1412 L905,1292 L911,1292 L917,1412" stroke="#e6e21e" stroke-width="2" fill="none"/>
<rect x="876" y="1395" width="95" height="8" fill="#fff"/>
<text class="sb" x="921" y="1389" text-anchor="middle" style="font-size:17px">1 µm</text>
<text class="yl" x="855" y="1287" text-anchor="middle" style="font-size:12px">400.7 nm</text>
<g class="yl" style="font-size:11px" text-anchor="end">
<text x="770" y="1280">40</text><text x="770" y="1314">30</text><text x="770" y="1348">20</text><text x="770" y="1382">10</text><text x="770" y="1416">0</text>
</g>
<text class="yl" x="0" y="0" text-anchor="middle" transform="translate(740,1340) rotate(-90)" style="font-size:12px">Intensity</text>
<g class="yl" style="font-size:11px" text-anchor="end">
<text x="0" y="0" transform="translate(824,1425) rotate(-60)">10</text>
<text x="0" y="0" transform="translate(869,1425) rotate(-60)">100</text>
<text x="0" y="0" transform="translate(922,1425) rotate(-60)">1000</text>
<text x="0" y="0" transform="translate(974,1425) rotate(-60)">10000</text>
</g>
<text class="yl" x="880" y="1468" text-anchor="middle" textLength="150" lengthAdjust="spacingAndGlyphs" style="font-size:14px">Particle size (nm)</text>
<rect x="1208" y="1270" width="198" height="133" fill="#666" filter="url(#fb6i)"/>
<rect x="1208" y="1270" width="198" height="133" fill="none" stroke="#fff" stroke-width="2"/>
<rect x="1305" y="1388" width="93" height="7" fill="#fff"/>
<text class="sb" x="1350" y="1382" text-anchor="middle">3 µm</text>

<rect x="478" y="1181" width="81" height="10" fill="#fff"/><text class="sb" x="518" y="1173" text-anchor="middle">5 µm</text>
<rect x="891" y="1181" width="81" height="10" fill="#fff"/><text class="sb" x="930" y="1173" text-anchor="middle">5 µm</text>
<rect x="1326" y="1181" width="81" height="10" fill="#fff"/><text class="sb" x="1362" y="1173" text-anchor="middle">5 µm</text>
<rect x="474" y="1506" width="85" height="11" fill="#fff"/><text class="sb" x="514" y="1499" text-anchor="middle">5 µm</text>
<rect x="884" y="1505" width="80" height="10" fill="#fff"/><text class="sb" x="924" y="1498" text-anchor="middle">5 µm</text>
<rect x="1311" y="1507" width="76" height="9" fill="#fff"/><text class="sb" x="1349" y="1499" text-anchor="middle">5 µm</text>

<!-- ================= PANEL C ================= -->
<text x="285" y="1608" style="font-size:36px;font-weight:bold;fill:#111">c</text>
<text class="ti" x="555" y="1602" text-anchor="middle" textLength="114" lengthAdjust="spacingAndGlyphs" style="font-size:20px">(P-AM-LA)</text>
<text class="ti" x="1029" y="1602" text-anchor="middle" textLength="167" lengthAdjust="spacingAndGlyphs" style="font-size:20px">(P-AM-LA-βLG)</text>
<text class="ti" x="545" y="1947" text-anchor="middle" textLength="109" lengthAdjust="spacingAndGlyphs" style="font-size:20px">(S-AM-LA)</text>
<text class="ti" x="1034" y="1947" text-anchor="middle" textLength="164" lengthAdjust="spacingAndGlyphs" style="font-size:20px">(S-AM-LA-βLG)</text>

<rect x="345" y="1608" width="420" height="278" fill="#777" filter="url(#fc1)"/>
<g fill="#8a8a8a" fill-opacity="0.45" stroke="#3c3c3c" stroke-opacity="0.45" stroke-width="2">
<circle cx="390" cy="1650" r="22"/><circle cx="450" cy="1630" r="20"/><circle cx="520" cy="1660" r="24"/><circle cx="600" cy="1640" r="22"/><circle cx="690" cy="1650" r="24"/><circle cx="740" cy="1700" r="20"/>
<circle cx="420" cy="1720" r="24"/><circle cx="500" cy="1740" r="26"/><circle cx="580" cy="1720" r="22"/><circle cx="660" cy="1740" r="24"/>
<circle cx="380" cy="1800" r="22"/><circle cx="460" cy="1810" r="24"/><circle cx="560" cy="1800" r="26"/><circle cx="640" cy="1820" r="22"/><circle cx="720" cy="1790" r="24"/>
<circle cx="420" cy="1865" r="18"/><circle cx="510" cy="1868" r="18"/>
</g>
<rect x="823" y="1608" width="419" height="278" fill="#666" filter="url(#fc2)"/>
<rect x="345" y="1954" width="423" height="282" fill="#666" filter="url(#fc3)"/>
<rect x="821" y="1954" width="421" height="282" fill="#666" filter="url(#fc4)"/>

<rect x="643" y="1862" width="101" height="13" fill="#fff"/><text class="sb" x="689" y="1849" text-anchor="middle">10 µm</text>
<rect x="1045" y="1860" width="167" height="14" fill="#fff"/><text class="sb" x="1128" y="1849" text-anchor="middle">5 µm</text>
<rect x="609" y="2202" width="133" height="16" fill="#fff"/><text class="sb" x="677" y="2192" text-anchor="middle">200 µm</text>
<rect x="1074" y="2202" width="133" height="16" fill="#fff"/><text class="sb" x="1138" y="2192" text-anchor="middle">200 µm</text>
</svg>
</body></html>
